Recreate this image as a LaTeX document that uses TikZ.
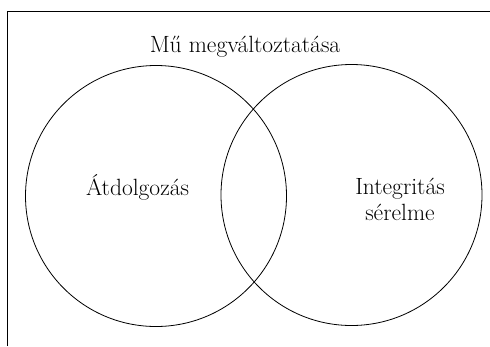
\documentclass[tikz,border=0pt]{standalone}
\begin{document}
\begin{tikzpicture}[x=1pt,y=-1pt,
  venn/.style={circle,draw,line width=0.8pt,minimum size=261pt,inner sep=0pt},
  label/.style={font=\fontsize{23.5}{26}\selectfont,align=center,inner sep=0pt}]
\useasboundingbox (0,0) rectangle (490,346);
\draw[line width=1pt] (7.5,346) -- (7.5,11) -- (490,11);
\node[venn] (A) at (156,196) {};
\node[venn] (B) at (351.5,195) {};
\node[label] (t) at (245,47) {Mű megváltoztatása};
\node[label] (a) at (137.5,187) {Átdolgozás};
\node[label] (b) at (400,199) {Integritás\\sérelme};
\end{tikzpicture}
\end{document}
